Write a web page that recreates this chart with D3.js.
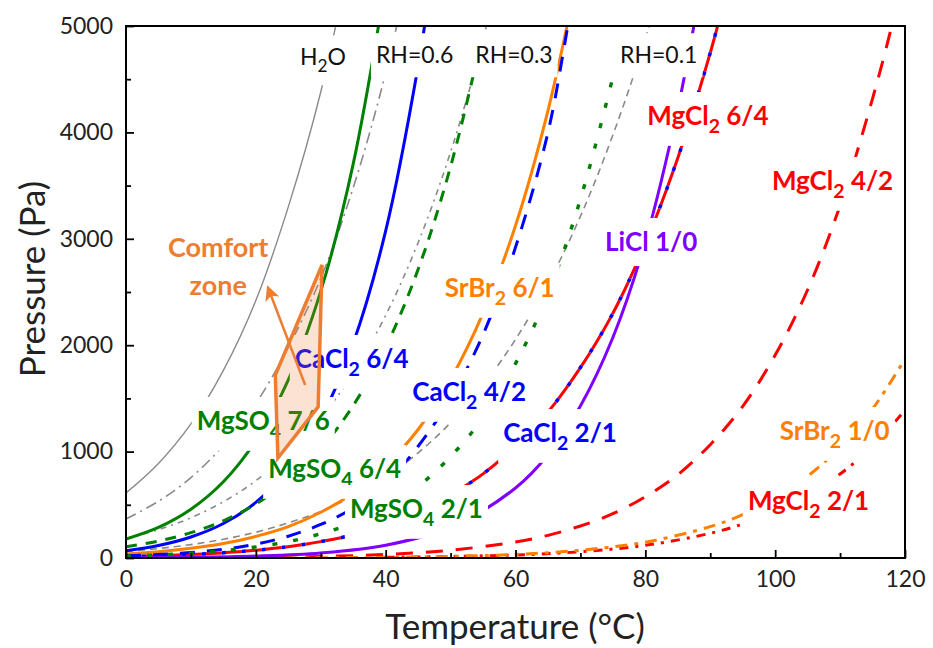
<!DOCTYPE html>
<html>
<head>
<meta charset="utf-8">
<script src="https://cdn.jsdelivr.net/npm/d3@7"></script>
<style>
  body { margin: 0; background: #fff; }
  svg text { font-family: Lato, "Open Sans", "DejaVu Sans", sans-serif; }
</style>
</head>
<body>
<svg id="chart" width="933" height="648"></svg>
<script>
// ---- Equilibrium vapour pressure curves: temperature (°C) and pressure (Pa) ----
const tH2O = [0, 5, 10, 15, 20, 25, 30, 35];
const pH2O = [611, 889, 1260, 1763, 2420, 3300, 4380, 5800];

const tRH06 = [0, 5, 10, 15, 20, 25, 30, 35, 40, 45];
const pRH06 = [367, 533, 756, 1058, 1452, 1980, 2628, 3480, 4560, 5928];

const tRH03 = [0, 5, 10, 15, 20, 25, 30, 35, 40, 45, 50, 55, 60];
const pRH03 = [183, 267, 378, 529, 726, 990, 1314, 1740, 2280, 2964, 3816, 4872, 6162];

const tRH01 = [0, 5, 10, 15, 20, 25, 30, 35, 40, 45, 50, 55, 60, 65, 70, 75, 80, 85];
const pRH01 = [61, 89, 126, 176, 242, 330, 438, 580, 760, 988, 1272, 1624, 2054, 2577, 3211, 3975, 4880, 5955];

const tMgSO4_76 = [0, 5, 10, 15, 20, 25, 30, 35, 40];
const pMgSO4_76 = [178, 287, 458, 716, 1103, 1675, 2508, 3704, 5410];

const tMgSO4_64 = [0, 5, 10, 15, 20, 25, 30, 35, 40, 45, 50, 55, 57];
const pMgSO4_64 = [106, 159, 238, 350, 507, 726, 1025, 1433, 1981, 2713, 3679, 4945, 5550];

const tMgSO4_21 = [0, 5, 10, 15, 20, 25, 30, 35, 40, 45, 50, 55, 60, 65, 70, 74.8];
const pMgSO4_21 = [18, 28, 45, 68, 104, 154, 228, 330, 477, 674, 953, 1320, 1827, 2482, 3371, 4470];

const tCaCl2_64 = [0, 5, 10, 15, 20, 25, 30, 35, 40, 45, 47];
const pCaCl2_64 = [69, 117, 197, 324, 523, 833, 1306, 2018, 3074, 4624, 5426];

const tCaCl2_42 = [0, 5, 10, 15, 20, 25, 30, 35, 40, 45, 50, 55, 60, 65, 68, 70];
const pCaCl2_42 = [20, 32, 52, 82, 130, 205, 315, 470, 700, 1050, 1500, 2100, 2920, 4000, 4980, 5700];

// CaCl2 2/1 and MgCl2 6/4 share the same track
const tCaCl2_21 = [0, 5, 10, 15, 20, 25, 30, 35, 40, 45, 50, 55, 60, 65, 70, 75, 80, 85, 90, 92];
const pCaCl2_21 = [14, 22, 33, 49, 73, 106, 154, 218, 309, 428, 594, 791, 1053, 1373, 1790, 2300, 2955, 3760, 4748, 5200];
const tMgCl2_64 = tCaCl2_21;
const pMgCl2_64 = pCaCl2_21;

const tMgCl2_42 = [0, 20, 30, 40, 50, 60, 65, 70, 75, 80, 85, 90, 95, 100, 105, 110, 115, 118, 120];
const pMgCl2_42 = [0.8, 6, 15, 33, 73, 151, 213, 301, 416, 576, 783, 1065, 1425, 1907, 2521, 3313, 4318, 5015, 5600];

const tMgCl2_21 = [40, 60, 70, 80, 90, 95, 100, 105, 110, 115, 120];
const pMgCl2_21 = [6, 28, 59, 119, 232, 319, 435, 588, 789, 1050, 1388];

const tSrBr2_61 = [0, 5, 10, 15, 20, 25, 30, 35, 40, 45, 50, 55, 60, 65, 70];
const pSrBr2_61 = [38, 59, 91, 136, 203, 295, 430, 611, 868, 1208, 1680, 2302, 3124, 4205, 5607];

const tSrBr2_10 = [20, 40, 50, 60, 70, 80, 90, 95, 100, 105, 110, 115, 120];
const pSrBr2_10 = [1, 6, 15, 34, 73, 149, 295, 408, 564, 769, 1043, 1401, 1870];

const tLiCl_10 = [0, 10, 20, 30, 40, 50, 60, 65, 70, 75, 80, 85, 88];
const pLiCl_10 = [2, 6, 18, 47, 120, 289, 658, 970, 1429, 2072, 2973, 4222, 5181];

// comfort zone outline (°C, Pa) and its pointer arrow
const zoneT = [23.4, 23.0, 30.2, 29.6];
const zoneP = [940, 1720, 2754, 1420];
const arrowT = [27.6, 21.9];
const arrowP = [1626, 2537];

// axis ticks
const xMajor = [0, 20, 40, 60, 80, 100, 120];
const xMinor = [10, 30, 50, 70, 90, 110];
const yMajor = [0, 1000, 2000, 3000, 4000, 5000];
const yMinor = [500, 1500, 2500, 3500, 4500];

// ---- layout ----
const svg = d3.select("#chart");
const M = { left: 126, right: 905, top: 26, bottom: 558 };
const x = d3.scaleLinear().domain([0, 120]).range([M.left, M.right]);
const y = d3.scaleLinear().domain([0, 5000]).range([M.bottom, M.top]);

const C = {
  gray: "#8a8a8a", green: "#008000", blue: "#0000ff", red: "#ff0000",
  orange: "#ff8000", purple: "#8000ff", comfort: "#ed7d31"
};

svg.append("clipPath").attr("id", "plotclip")
  .append("rect").attr("x", M.left).attr("y", M.top)
  .attr("width", M.right - M.left).attr("height", M.bottom - M.top);

const zip = (T, P) => T.map((t, i) => [t, P[i]]);

const series = [
  { T: tRH01, P: pRH01, color: C.gray, w: 1.6, dash: "7,5" },
  { T: tRH03, P: pRH03, color: C.gray, w: 1.6, dash: "6,5,2,5" },
  { T: tRH06, P: pRH06, color: C.gray, w: 1.6, dash: "11,5,2,5" },
  { T: tH2O, P: pH2O, color: C.gray, w: 1.4, dash: null },
  { T: tMgCl2_42, P: pMgCl2_42, color: C.red, w: 3, dash: "17,13" },
  { T: tMgCl2_21, P: pMgCl2_21, color: C.red, w: 3, dash: "9,7,3,7" },
  { T: tSrBr2_10, P: pSrBr2_10, color: C.orange, w: 3, dash: "12,7,4,7" },
  { T: tMgCl2_64, P: pMgCl2_64, color: C.red, w: 3, dash: "16,4" },
  { T: tCaCl2_21, P: pCaCl2_21, color: C.blue, w: 3.5, dash: "4,16", offset: -16 },
  { T: tLiCl_10, P: pLiCl_10, color: C.purple, w: 3, dash: null },
  { T: tSrBr2_61, P: pSrBr2_61, color: C.orange, w: 3, dash: null },
  { T: tCaCl2_42, P: pCaCl2_42, color: C.blue, w: 3, dash: "15,12" },
  { T: tCaCl2_64, P: pCaCl2_64, color: C.blue, w: 3, dash: null },
  { T: tMgSO4_21, P: pMgSO4_21, color: C.green, w: 3.4, dash: "5,16" },
  { T: tMgSO4_64, P: pMgSO4_64, color: C.green, w: 3, dash: "11,9" },
  { T: tMgSO4_76, P: pMgSO4_76, color: C.green, w: 3, dash: null }
];

const line = d3.line().x(d => x(d[0])).y(d => y(d[1])).curve(d3.curveCatmullRom.alpha(0.5));

const curves = svg.append("g").attr("clip-path", "url(#plotclip)");
series.forEach(s => {
  curves.append("path")
    .datum(zip(s.T, s.P))
    .attr("d", line)
    .attr("fill", "none")
    .attr("stroke", s.color)
    .attr("stroke-width", s.w)
    .attr("stroke-dasharray", s.dash)
    .attr("stroke-dashoffset", s.offset || 0);
});

// ---- curve labels (white boxed) ----
const labels = [
  { parts: ["H", "_2", "O"], T: 26.8, P: 4630, color: "#111", size: 23, weight: 400 },
  { parts: ["RH=0.6"], T: 38.5, P: 4650, color: "#111", size: 23, weight: 400 },
  { parts: ["RH=0.3"], T: 53.8, P: 4650, color: "#111", size: 23, weight: 400 },
  { parts: ["RH=0.1"], T: 76.1, P: 4650, color: "#111", size: 23, weight: 400 },
  { parts: ["MgCl", "_2", " 6/4"], T: 80.3, P: 4069, color: C.red, size: 26, weight: 700 },
  { parts: ["MgCl", "_2", " 4/2"], T: 99.5, P: 3459, color: C.red, size: 26, weight: 700 },
  { parts: ["LiCl 1/0"], T: 73.8, P: 2885, color: C.purple, size: 26, weight: 700 },
  { parts: ["SrBr", "_2", " 6/1"], T: 49.1, P: 2453, color: C.orange, size: 26, weight: 700 },
  { parts: ["CaCl", "_2", " 6/4"], T: 26.0, P: 1786, color: C.blue, size: 26, weight: 700 },
  { parts: ["CaCl", "_2", " 4/2"], T: 44.1, P: 1476, color: C.blue, size: 26, weight: 700 },
  { parts: ["CaCl", "_2", " 2/1"], T: 58.1, P: 1090, color: C.blue, size: 26, weight: 700 },
  { parts: ["MgSO", "_4", " 7/6"], T: 10.9, P: 1203, color: C.green, size: 26, weight: 700 },
  { parts: ["MgSO", "_4", " 6/4"], T: 21.9, P: 752, color: C.green, size: 26, weight: 700 },
  { parts: ["MgSO", "_4", " 2/1"], T: 34.5, P: 376, color: C.green, size: 26, weight: 700 },
  { parts: ["SrBr", "_2", " 1/0"], T: 100.7, P: 1109, color: C.orange, size: 26, weight: 700 },
  { parts: ["MgCl", "_2", " 2/1"], T: 95.8, P: 451, color: C.red, size: 26, weight: 700 }
];

const labelLayer = svg.append("g");
labels.forEach(L => {
  const g = labelLayer.append("g");
  const bg = g.append("rect").attr("fill", "#fff");
  const t = g.append("text")
    .attr("x", x(L.T)).attr("y", y(L.P))
    .attr("fill", L.color)
    .style("font-size", L.size + "px")
    .style("font-weight", L.weight);
  let shifted = false;
  L.parts.forEach(p => {
    if (p.startsWith("_")) {
      t.append("tspan").text(p.slice(1))
        .style("font-size", (L.size * 0.75) + "px")
        .attr("dy", L.size * 0.3);
      shifted = true;
    } else {
      const ts = t.append("tspan").text(p);
      if (shifted) { ts.attr("dy", -L.size * 0.3); shifted = false; }
    }
  });
  const b = t.node().getBBox();
  bg.attr("x", b.x - 5).attr("y", b.y - 7)
    .attr("width", b.width + 10).attr("height", b.height + 16);
});

// ---- comfort zone ----
const zone = svg.append("g");
zone.append("polygon")
  .attr("points", zoneT.map((t, i) => [x(t), y(zoneP[i])].join(",")).join(" "))
  .attr("fill", C.comfort).attr("fill-opacity", 0.22)
  .attr("stroke", C.comfort).attr("stroke-width", 3.5)
  .attr("stroke-linejoin", "miter");

svg.append("defs").append("marker")
  .attr("id", "arrowhead").attr("viewBox", "0 0 10 10")
  .attr("refX", 8).attr("refY", 5)
  .attr("markerWidth", 6).attr("markerHeight", 6)
  .attr("orient", "auto")
  .append("path").attr("d", "M0,0 L10,5 L0,10 L2.5,5 z").attr("fill", C.comfort);

zone.append("line")
  .attr("x1", x(arrowT[0])).attr("y1", y(arrowP[0]))
  .attr("x2", x(arrowT[1])).attr("y2", y(arrowP[1]))
  .attr("stroke", C.comfort).attr("stroke-width", 2.5)
  .attr("marker-end", "url(#arrowhead)");

zone.append("text")
  .attr("x", x(14.2)).attr("y", y(2829))
  .attr("text-anchor", "middle").attr("fill", C.comfort)
  .style("font-size", "27px").style("font-weight", 700)
  .text("Comfort");
zone.append("text")
  .attr("x", x(14.2)).attr("y", y(2472))
  .attr("text-anchor", "middle").attr("fill", C.comfort)
  .style("font-size", "27px").style("font-weight", 700)
  .text("zone");

// ---- axes ----
const axes = svg.append("g");
axes.append("g").attr("transform", `translate(0,${M.bottom})`)
  .call(d3.axisBottom(x).tickValues(xMajor).tickSize(-8).tickPadding(13).tickFormat(d3.format("d")));
axes.append("g").attr("transform", `translate(0,${M.bottom})`)
  .call(d3.axisBottom(x).tickValues(xMinor).tickSize(-5).tickFormat(""));
axes.append("g").attr("transform", `translate(${M.left},0)`)
  .call(d3.axisLeft(y).tickValues(yMajor).tickSize(-8).tickPadding(13).tickFormat(d3.format("d")));
axes.append("g").attr("transform", `translate(${M.left},0)`)
  .call(d3.axisLeft(y).tickValues(yMinor).tickSize(-5).tickFormat(""));

axes.selectAll(".domain").remove();
axes.selectAll(".tick line").attr("stroke", "#000").attr("stroke-width", 1.8);
axes.selectAll(".tick text").attr("fill", "#222").style("font-size", "23px")
  .style("font-family", "Lato, 'Open Sans', sans-serif");

svg.append("rect")
  .attr("x", M.left).attr("y", M.top)
  .attr("width", M.right - M.left).attr("height", M.bottom - M.top)
  .attr("fill", "none").attr("stroke", "#000").attr("stroke-width", 2);

svg.append("text")
  .attr("x", 515).attr("y", 639)
  .attr("text-anchor", "middle").attr("fill", "#222")
  .style("font-size", "35px")
  .text("Temperature (°C)");

svg.append("text")
  .attr("transform", "translate(45,279) rotate(-90)")
  .attr("text-anchor", "middle").attr("fill", "#222")
  .style("font-size", "35px")
  .text("Pressure (Pa)");
</script>
</body>
</html>
